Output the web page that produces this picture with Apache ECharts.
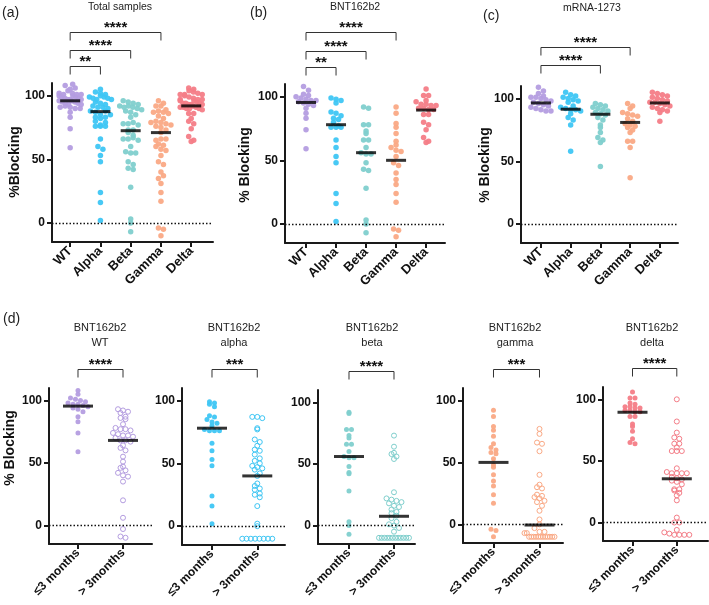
<!DOCTYPE html>
<html><head><meta charset="utf-8">
<script src="https://cdn.jsdelivr.net/npm/echarts@6/dist/echarts.min.js"></script>
<style>html,body{margin:0;padding:0;background:#fff}#c{width:709px;height:605px}</style>
</head><body><div id="c"></div>
<script>
// ---------- DATA ----------
const variants = ['WT', 'Alpha', 'Beta', 'Gamma', 'Delta'];
const periods = ['≤3 months', '> 3months'];
const lowerNames = ['WT', 'alpha', 'beta', 'gamma', 'delta'];

// BNT162b2 (= ≤3 months in panel d)
const bntWT = [111, 108, 105, 102, 101, 100, 99, 98, 97, 97, 96, 95, 94, 93, 91, 87, 83, 74, 59];
const bntAlpha = [99, 98, 97, 95, 88, 87, 85, 83, 82, 80, 77, 76, 76, 76, 66, 60, 53, 48, 24, 16, 2];
const bntBeta = [92, 91, 78, 78, 73, 71, 66, 66, 60, 56, 55, 55, 48, 43, 42, 28, 3, 0, -7];
const bntGamma = [92, 87, 79, 76, 71, 65, 62, 60, 58, 57, 53, 48, 46, 40, 35, 31, 24, 17, -4, -5, -10];
const bntDelta = [106, 101, 101, 97, 96, 94, 94, 93, 93, 91, 91, 90, 90, 86, 86, 80, 78, 74, 68, 65, 64];

// mRNA-1273
const mrnaWT = [109, 106, 104, 102, 101, 101, 100, 99, 98, 97, 96, 95, 94, 93, 92, 91, 90, 90];
const mrnaAlpha = [105, 103, 102, 101, 100, 99, 98, 97, 94, 93, 92, 91, 91, 90, 88, 85, 83, 79, 58];
const mrnaBeta = [96, 95, 94, 93, 92, 91, 90, 89, 88, 87, 85, 83, 79, 77, 73, 69, 67, 65, 46];
const mrnaGamma = [96, 94, 92, 89, 88, 87, 86, 84, 82, 80, 79, 78, 77, 75, 73, 66, 66, 61, 37];
const mrnaDelta = [105, 104, 103, 102, 101, 100, 99, 98, 97, 97, 96, 95, 94, 93, 92, 91, 90, 89, 82];

// BNT162b2 > 3 months
const lateWT = [93, 92, 91, 90, 87, 86, 85, 81, 78, 77, 77, 76, 74, 73, 72, 72, 71, 70, 68, 68, 67, 64, 62, 60, 55, 51, 47, 46, 44, 42, 40, 39, 35, 20, 6, -3, -9, -10];
const lateAlpha = [87, 87, 86, 78, 77, 69, 67, 64, 61, 60, 57, 54, 52, 50, 48, 47, 46, 45, 42, 40, 34, 32, 30, 29, 26, 25, 23, 16, 2, 0, -10, -10, -10, -10, -10, -10, -10, -10];
const lateBeta = [73, 64, 59, 58, 56, 54, 27, 22, 21, 20, 19, 18, 16, 15, 13, 11, 10, 8, 6, 3, 1, 0, -2, -5, -10, -10, -10, -10, -10, -10, -10, -10, -10, -10, -10, -10];
const lateGamma = [77, 73, 66, 65, 59, 40, 32, 30, 29, 24, 23, 22, 21, 19, 18, 15, 11, 4, 0, -3, -6, -7, -7, -6, -10, -10, -10, -10, -10, -10, -10, -10, -10, -10, -10, -10];
const lateDelta = [100, 82, 73, 69, 68, 64, 64, 61, 58, 58, 58, 44, 41, 40, 40, 40, 40, 37, 36, 35, 34, 33, 31, 27, 27, 26, 24, 22, 18, 4, 0, 0, -6, -8, -9, -10, -10, -10, -10];

// medians (horizontal bars)
const medTotal = [96, 87.5, 72.5, 71, 92];
const medBNT = [95.5, 78, 56, 50, 89.5];
const medMRNA = [96.5, 91.5, 87.5, 81, 96.5];
const medLate = [68, 40, 7.5, -0.5, 35.5];

// significance
const sigA = [[0, 1, '**'], [0, 2, '****'], [0, 3, '****']];
const sigB = [[0, 1, '**'], [0, 2, '****'], [0, 3, '****']];
const sigC = [[0, 2, '****'], [0, 3, '****']];
const sigD = ['****', '***', '****', '***', '****'];

const yTicks = [0, 50, 100];

// ---------- STYLE / LAYOUT ----------
const colors = ['#B49DE0', '#3EC6F4', '#80CFCD', '#FAA985', '#F47D87'];
const FONT = '"Liberation Sans", Arial, sans-serif';
const yMin = -15, yMax = 110;

const bnt = [bntWT, bntAlpha, bntBeta, bntGamma, bntDelta];
const mrna = [mrnaWT, mrnaAlpha, mrnaBeta, mrnaGamma, mrnaDelta];
const late = [lateWT, lateAlpha, lateBeta, lateGamma, lateDelta];
const total = bnt.map((a, i) => a.concat(mrna[i]));

const topLay = [
  {left: 52, top: 83, width: 161, height: 159, xmin: -0.6, xmax: 4.72, levels: [123, 136, 150]},
  {left: 285, top: 84, width: 160, height: 159, xmin: -0.7, xmax: 4.63, levels: [123, 136, 151]},
  {left: 521, top: 86, width: 157, height: 157, xmin: -0.67, xmax: 4.61, levels: [127, 141]}
];
const botLay = [
  {left: 49, top: 388, width: 103, height: 156, xmin: -0.644, xmax: 1.644},
  {left: 182, top: 388, width: 103, height: 157, xmin: -0.662, xmax: 1.612},
  {left: 318, top: 390, width: 97, height: 154, xmin: -0.689, xmax: 1.467},
  {left: 463, top: 388, width: 100, height: 155, xmin: -0.663, xmax: 1.511},
  {left: 603, top: 387, width: 105, height: 154, xmin: -0.666, xmax: 1.704}
];

function swarm(vals, ci, L, d, maxW) {
  const ys = L.height / (yMax - yMin), xs = L.width / (L.xmax - L.xmin);
  const bins = {};
  vals.forEach(v => { const b = Math.round(v * ys / d); (bins[b] = bins[b] || []).push(v); });
  const out = [];
  Object.keys(bins).forEach(k => {
    const arr = bins[k], n = arr.length;
    const s = n > 1 ? Math.min(d, maxW / (n - 1)) : 0;
    arr.forEach((v, i) => out.push([ci + (i - (n - 1) / 2) * s / xs, v]));
  });
  return out;
}

const grids = [], xAxes = [], yAxes = [], series = [];
function addPanel(L, groups, cols, hollow, labels, medians, opt) {
  const gi = grids.length;
  grids.push({left: L.left, top: L.top, width: L.width, height: L.height, containLabel: false});
  const idx = labels.map((_, i) => i);
  xAxes.push({type: 'value', gridIndex: gi, min: L.xmin, max: L.xmax,
    axisLine: {onZero: false, lineStyle: {color: '#1a1a1a', width: 2}},
    axisTick: {show: true, customValues: idx, length: 5, lineStyle: {color: '#1a1a1a', width: 2}},
    axisLabel: {customValues: idx, formatter: v => labels[Math.round(v)], rotate: 45, margin: 7,
      color: '#111', fontWeight: 'bold', fontSize: opt.xfs, fontFamily: FONT},
    splitLine: {show: false}});
  yAxes.push({type: 'value', gridIndex: gi, min: yMin, max: yMax,
    axisLine: {show: true, onZero: false, lineStyle: {color: '#1a1a1a', width: 2}},
    axisTick: {show: true, customValues: yTicks, length: 5, lineStyle: {color: '#1a1a1a', width: 2}},
    axisLabel: {customValues: yTicks, margin: 7, color: '#111', fontWeight: 'bold', fontSize: 12, fontFamily: FONT},
    splitLine: {show: false}});
  groups.forEach((vals, i) => {
    const h = hollow[i];
    series.push({type: 'scatter', xAxisIndex: gi, yAxisIndex: gi, silent: true, animation: false,
      data: swarm(vals, i, L, opt.d, opt.maxW), symbol: 'circle', symbolSize: opt.sym, z: 2,
      itemStyle: h ? {color: 'rgba(255,255,255,0)', borderColor: cols[i], borderWidth: 1, opacity: 1}
                   : {color: cols[i], opacity: 0.95}});
  });
  series.push({type: 'scatter', xAxisIndex: gi, yAxisIndex: gi, silent: true, animation: false, z: 5,
    data: medians.map((m, i) => [i, m]), symbol: 'rect', symbolSize: [opt.medW, 3],
    itemStyle: {color: '#000'},
    markLine: {silent: true, symbol: ['none', 'none'], label: {show: false}, animation: false,
      lineStyle: {type: [1.5, 2], color: '#111', width: 1.3}, data: [{yAxis: 0}]}});
  return gi;
}

const topSets = [[total, medTotal], [bnt, medBNT], [mrna, medMRNA]];
const topGi = topSets.map((s, k) => addPanel(topLay[k], s[0], colors, [0, 0, 0, 0, 0], variants, s[1],
  {xfs: 13, d: 5, maxW: 22, sym: 5.5, medW: 20}));
const botGi = late.map((lv, k) => addPanel(botLay[k], [bnt[k], lv], [colors[k], colors[k]], [0, 1], periods,
  [medBNT[k], medLate[k]], {xfs: 12, d: 5, maxW: 30, sym: 5, medW: 30}));

const chart = echarts.init(document.getElementById('c'), null, {renderer: 'canvas'});
chart.setOption({animation: false, backgroundColor: '#fff', grid: grids, xAxis: xAxes, yAxis: yAxes, series: series});

// ---------- ANNOTATIONS ----------
const g = [];
function txt(x, y, text, font, align, valign, rot, fill) {
  g.push({type: 'text', x: x, y: y, rotation: rot || 0, silent: true,
    style: {text: text, font: font, fill: fill || '#222', textAlign: align, textVerticalAlign: valign}});
}
function bracket(gi, a, b, level, leg, label) {
  const p1 = chart.convertToPixel({gridIndex: gi}, [a, level]);
  const p2 = chart.convertToPixel({gridIndex: gi}, [b, level]);
  const y = Math.round(p1[1]) + 0.5;
  g.push({type: 'polyline', silent: true, shape: {points: [[p1[0], y + leg], [p1[0], y], [p2[0], y], [p2[0], y + leg]]},
    style: {stroke: '#333', lineWidth: 1, fill: null}});
  txt((p1[0] + p2[0]) / 2, y + 3, label, 'bold 15px ' + FONT, 'center', 'bottom', 0, '#111');
}
sigA.forEach((s, i) => bracket(topGi[0], s[0], s[1], topLay[0].levels[i], 8, s[2]));
sigB.forEach((s, i) => bracket(topGi[1], s[0], s[1], topLay[1].levels[i], 8, s[2]));
sigC.forEach((s, i) => bracket(topGi[2], s[0], s[1], topLay[2].levels[i], 8, s[2]));
sigD.forEach((s, k) => bracket(botGi[k], 0, 1, 125.5, 8, s));

const letterFont = '14px ' + FONT, titleFont = '10.5px ' + FONT, nameFont = 'bold 14px ' + FONT;
txt(2, 6, '(a)', letterFont, 'left', 'top');
txt(250, 6, '(b)', letterFont, 'left', 'top');
txt(483, 9, '(c)', letterFont, 'left', 'top');
txt(3, 312, '(d)', letterFont, 'left', 'top');
txt(120, 2, 'Total samples', titleFont, 'center', 'top');
txt(355, 2, 'BNT162b2', titleFont, 'center', 'top');
txt(592, 3, 'mRNA-1273', titleFont, 'center', 'top');
const dCenters = [100, 234, 372, 515, 652];
dCenters.forEach((cx, k) => {
  txt(cx, 322, 'BNT162b2', '11px ' + FONT, 'center', 'top');
  txt(cx, 337, lowerNames[k], '11px ' + FONT, 'center', 'top');
});
txt(15, 162, '%Blocking', nameFont, 'center', 'middle', Math.PI / 2, '#111');
txt(245, 165, '% Blocking', nameFont, 'center', 'middle', Math.PI / 2, '#111');
txt(485, 165, '% Blocking', nameFont, 'center', 'middle', Math.PI / 2, '#111');
txt(10, 448, '% Blocking', nameFont, 'center', 'middle', Math.PI / 2, '#111');

chart.setOption({graphic: g});
</script>
</body></html>
